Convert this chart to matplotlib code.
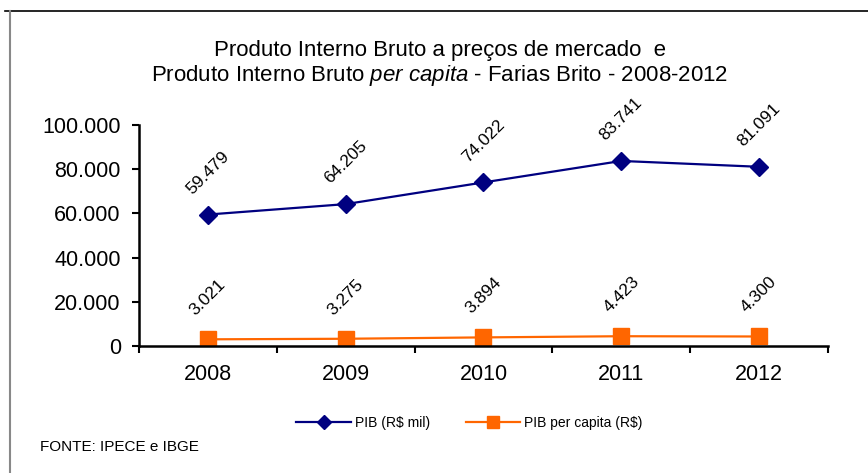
import matplotlib.pyplot as plt
from matplotlib.lines import Line2D
from matplotlib.ticker import FuncFormatter, FixedLocator

plt.rcParams['font.family'] = ['Liberation Sans', 'DejaVu Sans']
plt.rcParams['mathtext.fontset'] = 'custom'
plt.rcParams['mathtext.rm'] = 'Liberation Sans'
plt.rcParams['mathtext.it'] = 'Liberation Sans:italic'

anos = ['2008', '2009', '2010', '2011', '2012']
pib = [59479, 64205, 74022, 83741, 81091]
pib_per_capita = [3021, 3275, 3894, 4423, 4300]

azul = '#000080'
laranja = '#FF6600'


def milhar(v, pos=None):
    return f'{int(v):,}'.replace(',', '.')


fig = plt.figure(figsize=(8.68, 4.73), dpi=100)
ax = fig.add_axes([0.160, 0.2685, 0.794, 0.4672])

x = list(range(len(anos)))
ax.plot(x, pib, color=azul, lw=1.6, marker='D', ms=9.5, label='PIB (R$ mil)')
ax.plot(x, pib_per_capita, color=laranja, lw=1.6, marker='s', ms=11.5,
        label='PIB per capita (R$)')

# rotulos de dados
for xi, v in zip(x, pib):
    ax.annotate(milhar(v), (xi, v), xytext=(0, 30), textcoords='offset points',
                rotation=45, ha='center', va='center', fontsize=12.5)
for xi, v in zip(x, pib_per_capita):
    ax.annotate(milhar(v), (xi, v), xytext=(0, 30), textcoords='offset points',
                rotation=45, ha='center', va='center', fontsize=12.5)

ax.set_xlim(-0.5, len(anos) - 0.5)
ax.set_ylim(0, 100000)
ax.set_yticks(range(0, 100001, 20000))
ax.yaxis.set_major_formatter(FuncFormatter(milhar))
ax.set_xticks(x)
ax.set_xticklabels(anos)
ax.xaxis.set_minor_locator(FixedLocator([i - 0.5 for i in range(len(anos) + 1)]))
ax.tick_params(axis='x', which='major', length=0, labelsize=15.5, pad=13)
ax.tick_params(axis='x', which='minor', length=5, width=1.5, direction='out')
ax.tick_params(axis='y', length=5, width=1.5, direction='out', labelsize=15.5, pad=8)

for s in ['top', 'right']:
    ax.spines[s].set_visible(False)
for s in ['left', 'bottom']:
    ax.spines[s].set_linewidth(1.8)

fig.text(0.507, 0.893, 'Produto Interno Bruto a preços de mercado  e',
         ha='center', va='center', fontsize=16)
fig.text(0.507, 0.841, 'Produto Interno Bruto $\\it{per\\ capita}$ - Farias Brito - 2008-2012',
         ha='center', va='center', fontsize=16)

fig.legend(loc='center', bbox_to_anchor=(0.541, 0.106), ncol=2, frameon=False,
           fontsize=10, handlelength=3.9, handletextpad=0.3, columnspacing=2.6,
           markerscale=0.75)

fig.text(0.046, 0.055, 'FONTE: IPECE e IBGE', ha='left', va='center', fontsize=11)

# moldura
fig.add_artist(Line2D([0.006, 1.0], [0.977, 0.977], color='black', lw=1.2,
                      transform=fig.transFigure))
fig.add_artist(Line2D([0.012, 0.012], [0.0, 0.977], color='#888888', lw=1.5,
                      transform=fig.transFigure))

fig.savefig('out.png', dpi=100)
